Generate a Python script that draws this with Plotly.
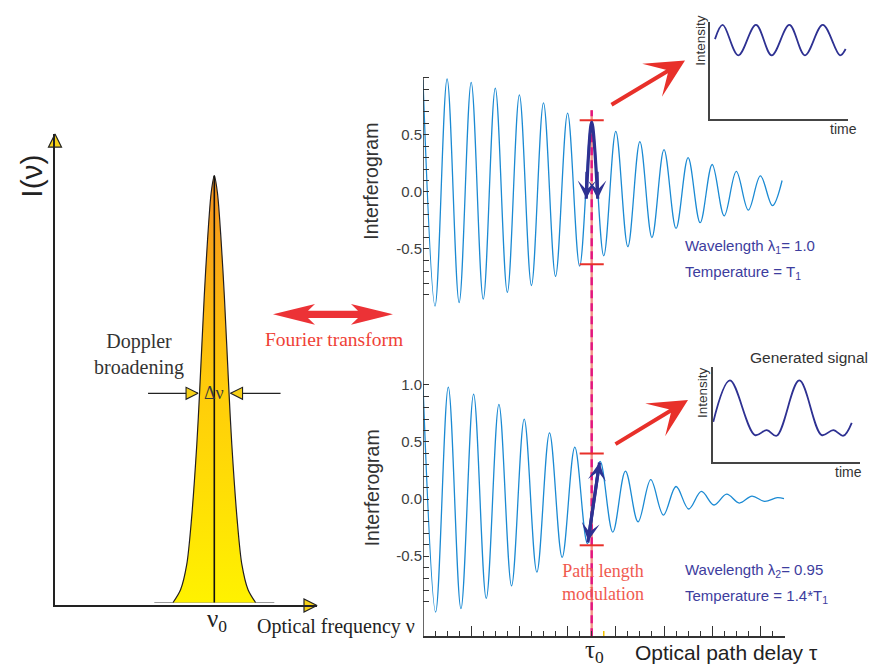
import plotly.graph_objects as go

# ---------------- data ----------------
# Doppler-broadened line: offset from nu0 (in Doppler-width units) and relative intensity
spec_offset = [-3.3, -2.7, -2.2, -1.84, -1.4, -1.18, -0.8, -0.54, -0.25, 0.0,
               0.25, 0.54, 0.8, 1.18, 1.4, 1.84, 2.2, 2.7, 3.3]
spec_intensity = [0.0, 0.03, 0.09, 0.19, 0.37, 0.49, 0.72, 0.85, 0.96, 1.0,
                  0.96, 0.85, 0.72, 0.49, 0.37, 0.19, 0.09, 0.03, 0.0]
spec_tail = [-4.8, 4.8]
delta_nu_level = 0.49
delta_nu_half = 1.3

# Interferogram 1 (lambda1 = 1.0): extrema along the optical path delay
ifg1_delay = [0, 1, 2, 3, 4, 5, 6, 7, 8, 9, 10, 11, 12, 13, 14, 15, 16, 17, 18, 19,
              20, 21, 22, 23, 24, 25, 26, 27, 28, 29, 29.8]
ifg1_value = [0.98, -1.0, 0.99, -0.97, 0.96, -0.94, 0.91, -0.88, 0.85, -0.82,
              0.78, -0.74, 0.69, -0.65, 0.62, -0.56, 0.53, -0.48, 0.44, -0.40,
              0.37, -0.32, 0.30, -0.27, 0.24, -0.21, 0.18, -0.16, 0.14, -0.12, 0.10]

# Interferogram 2 (lambda2 = 0.95)
ifg2_delay = [0, 1.05, 2.1, 3.15, 4.2, 5.25, 6.3, 7.35, 8.4, 9.45, 10.5, 11.55, 12.6,
              13.65, 14.7, 15.75, 16.8, 17.85, 18.9, 19.95, 21.0, 22.05, 23.1, 24.15,
              25.2, 26.25, 27.3, 28.35, 29.4, 29.96]
ifg2_value = [1.0, -0.99, 0.98, -0.96, 0.92, -0.87, 0.83, -0.76, 0.70, -0.64, 0.58,
              -0.51, 0.455, -0.39, 0.33, -0.29, 0.245, -0.20, 0.17, -0.14, 0.11,
              -0.087, 0.067, -0.052, 0.043, -0.035, 0.026, -0.02, 0.012, 0.004]

tau0 = 14.0
mod_halfwidth = 1.0
mod1_limits = [-0.633, 0.627]
mod2_limits = [-0.405, 0.40]
mod1_arrow_x = [13.55, 14.0, 14.5]
mod1_arrow_y = [-0.06, 0.61, -0.06]
mod2_arrow_x = [13.68, 14.65]
mod2_arrow_y = [-0.38, 0.32]

# Inset signals (time, intensity)
sig1_time = [0.36, 0.92, 2.05, 3.33, 4.47, 5.75, 6.88, 8.17, 9.42, 9.83]
sig1_int = [0.849, 1.0, 0.677, 1.0, 0.677, 1.0, 0.677, 1.0, 0.677, 0.744]
sig2_time = [0.04, 1.17, 2.87, 3.67, 4.34, 5.88, 7.40, 8.19, 8.87, 9.44]
sig2_int = [0.425, 0.861, 0.286, 0.339, 0.279, 0.861, 0.286, 0.339, 0.279, 0.415]

ytick_vals = [-0.9, -0.8, -0.7, -0.6, -0.5, -0.4, -0.3, -0.2, -0.1, 0.0,
              0.1, 0.2, 0.3, 0.4, 0.5, 0.6, 0.7, 0.8, 0.9, 1.0]
ylabels_top = {0.5: "0.5", 0.0: "0.0", -0.5: "-0.5"}
ylabels_bottom = {1.0: "1.0", 0.5: "0.5", 0.0: "0.0", -0.5: "-0.5"}

# ---------------- geometry helpers ----------------
W, H = 876, 667


def fx(px):
    return px / W


def fy(py):
    return 1 - py / H


SANS = "Liberation Sans, Arial, Helvetica, sans-serif"
SERIF = "Liberation Serif, Times New Roman, serif"
IFG_BLUE = "#1b8ad3"
NAVY = "#2e3192"
RED = "#e8302a"
TEXTBLUE = "#3d3d9e"

# spectrum panel geometry
X1_L, X1_R, Y1_T, Y1_B = 55, 317, 130, 605
NU0_PX, SIG_PX = 214.3, 12.5
BASE_PX, PEAK_PX = 602, 172
uy1 = BASE_PX - PEAK_PX
xr1 = [(X1_L - NU0_PX) / SIG_PX, (X1_R - NU0_PX) / SIG_PX]
yr1 = [(BASE_PX - Y1_B) / uy1, (BASE_PX - Y1_T) / uy1]

# interferogram geometry
XI_L, XI_R = 423, 784.5
UNIT = 115.0
Y2_ONE = 73.3
Y3_ONE = 382.8
yr2 = [-1.05, 1.03]
yr3 = [-1.2, 1.03]
dom2 = [fy(Y2_ONE + (1 - yr2[0]) * UNIT), fy(Y2_ONE - (yr2[1] - 1) * UNIT)]
dom3 = [fy(Y3_ONE + (1 - yr3[0]) * UNIT), fy(Y3_ONE - (yr3[1] - 1) * UNIT)]

fig = go.Figure()

# ---- spectrum ----
fig.add_trace(go.Scatter(
    x=spec_offset, y=spec_intensity, mode="lines", line=dict(color="#231f20", width=1.2, shape="spline", smoothing=0.8),
    fill="tozeroy",
    fillgradient=dict(type="vertical", colorscale=[[0, "#fff200"], [0.5, "#ffcc0a"], [1, "#f5921e"]]),
    xaxis="x", yaxis="y", hoverinfo="skip"))
fig.add_trace(go.Scatter(
    x=[0, 0], y=[0, max(spec_intensity)], mode="lines", line=dict(color="#111", width=1.6),
    xaxis="x", yaxis="y", hoverinfo="skip"))
# axis arrow heads
fig.add_trace(go.Scatter(
    x=[xr1[0]], y=[yr1[1]], mode="markers", cliponaxis=False,
    marker=dict(symbol="arrow-up", size=13, color="#f7d117", line=dict(color="#222", width=1.2)),
    xaxis="x", yaxis="y", hoverinfo="skip"))
fig.add_trace(go.Scatter(
    x=[xr1[1]], y=[yr1[0]], mode="markers", cliponaxis=False,
    marker=dict(symbol="arrow-right", size=13, color="#f7d117", line=dict(color="#222", width=1.2)),
    xaxis="x", yaxis="y", hoverinfo="skip"))
# delta-nu arrows
fig.add_trace(go.Scatter(
    x=[-delta_nu_half - 4.0, -delta_nu_half, None, delta_nu_half + 4.0, delta_nu_half],
    y=[delta_nu_level] * 2 + [None] + [delta_nu_level] * 2,
    mode="lines", line=dict(color="#222", width=1.3), xaxis="x", yaxis="y", hoverinfo="skip"))
fig.add_trace(go.Scatter(
    x=[-delta_nu_half], y=[delta_nu_level], mode="markers", cliponaxis=False,
    marker=dict(symbol="arrow-right", size=12, color="#f7d117", line=dict(color="#222", width=1.1)),
    xaxis="x", yaxis="y", hoverinfo="skip"))
fig.add_trace(go.Scatter(
    x=[delta_nu_half], y=[delta_nu_level], mode="markers", cliponaxis=False,
    marker=dict(symbol="arrow-left", size=12, color="#f7d117", line=dict(color="#222", width=1.1)),
    xaxis="x", yaxis="y", hoverinfo="skip"))

# ---- interferograms ----
fig.add_trace(go.Scatter(x=ifg1_delay, y=ifg1_value, mode="lines",
                         line=dict(color=IFG_BLUE, width=1.3, shape="spline", smoothing=1.0),
                         xaxis="x2", yaxis="y2", hoverinfo="skip"))
fig.add_trace(go.Scatter(x=ifg2_delay, y=ifg2_value, mode="lines",
                         line=dict(color=IFG_BLUE, width=1.3, shape="spline", smoothing=1.0),
                         xaxis="x3", yaxis="y3", hoverinfo="skip"))

# modulation limits (red bars)
for lim, xa, ya in [(mod1_limits, "x2", "y2"), (mod2_limits, "x3", "y3")]:
    fig.add_trace(go.Scatter(
        x=[tau0 - mod_halfwidth, tau0 + mod_halfwidth, None, tau0 - mod_halfwidth, tau0 + mod_halfwidth],
        y=[lim[1], lim[1], None, lim[0], lim[0]], mode="lines",
        line=dict(color=RED, width=2), xaxis=xa, yaxis=ya, hoverinfo="skip", cliponaxis=False))

# navy modulation strokes
fig.add_trace(go.Scatter(x=mod1_arrow_x, y=mod1_arrow_y, mode="lines",
                         line=dict(color=NAVY, width=3.2, shape="spline"),
                         xaxis="x2", yaxis="y2", hoverinfo="skip"))
fig.add_trace(go.Scatter(x=mod2_arrow_x, y=mod2_arrow_y, mode="lines",
                         line=dict(color=NAVY, width=3.2),
                         xaxis="x3", yaxis="y3", hoverinfo="skip"))

# ---- insets ----
fig.add_trace(go.Scatter(x=sig1_time, y=sig1_int, mode="lines",
                         line=dict(color=NAVY, width=1.8, shape="spline"),
                         xaxis="x4", yaxis="y4", hoverinfo="skip"))
fig.add_trace(go.Scatter(x=sig2_time, y=sig2_int, mode="lines",
                         line=dict(color=NAVY, width=1.8, shape="spline"),
                         xaxis="x5", yaxis="y5", hoverinfo="skip"))


# ---------------- shapes ----------------
def ppath(points):
    return "M " + " L ".join(f"{fx(a):.5f},{fy(b):.5f}" for a, b in points) + " Z"


# Fourier-transform double arrow (decoration)
FA_L, FA_R, FA_Y = 273, 393, 311.7
HL, HH, NOTCH, SH = 42, 10.5, 7, 3.6
fourier_arrow = [
    (FA_L, FA_Y), (FA_L + HL, FA_Y - HH), (FA_L + HL - NOTCH, FA_Y - SH),
    (FA_R - HL + NOTCH, FA_Y - SH), (FA_R - HL, FA_Y - HH), (FA_R, FA_Y),
    (FA_R - HL, FA_Y + HH), (FA_R - HL + NOTCH, FA_Y + SH),
    (FA_L + HL - NOTCH, FA_Y + SH), (FA_L + HL, FA_Y + HH),
]

shapes = [
    # spectrum baseline tails
    dict(type="line", xref="x", yref="y", x0=spec_tail[0], x1=spec_tail[1], y0=0, y1=0,
         line=dict(color="#9a9a9a", width=1.2), layer="below"),
    # long shared y-axis line of the interferograms
    dict(type="line", xref="x2", yref="paper", x0=0, x1=0, y0=fy(636), y1=fy(Y2_ONE),
         line=dict(color="#333", width=1.5)),
    # tau0 line: salmon underlay + magenta dashes
    dict(type="line", xref="x3", yref="paper", x0=tau0, x1=tau0, y0=fy(636), y1=fy(106),
         line=dict(color="#f3968a", width=2.4), layer="below"),
    dict(type="line", xref="x3", yref="paper", x0=tau0, x1=tau0, y0=fy(636), y1=fy(106),
         line=dict(color="#e4157f", width=2.4, dash="8px,5px"), layer="below"),
    # yellow tick next to tau0
    dict(type="line", xref="x3", yref="y3", x0=tau0 + 1, x1=tau0 + 1, y0=yr3[0], y1=yr3[0] + 5 / UNIT,
         line=dict(color="#f2c200", width=1.5)),
    dict(type="path", xref="paper", yref="paper", path=ppath(fourier_arrow),
         fillcolor="#ec3236", line=dict(width=0)),
]

# ---------------- annotations ----------------
ann = []


def text(px, py, s, size, color="#333", family=SANS, xanchor="center", angle=0):
    ann.append(dict(x=fx(px), y=fy(py), xref="paper", yref="paper", text=s, showarrow=False,
                    font=dict(size=size, color=color, family=family), xanchor=xanchor,
                    yanchor="middle", textangle=angle))


text(31.5, 172.5, "I(ν)", 30, "#222", SANS, angle=-90)
text(138.5, 352.5, "Doppler<br>broadening", 20, "#333", SERIF)
text(214.3, 390.5, "Δν", 18, "#3a3a3a", SERIF)
text(216.5, 620, "ν<sub>0</sub>", 25, "#222", SERIF)
text(336, 626, "Optical frequency ν", 20, "#222", SERIF)
text(334, 337, "Fourier transform", 19.5, "#ef4136", SERIF)
text(371.5, 177.5, "Interferogram", 19.5, "#333", SANS, angle=-90)
text(371.5, 486.5, "Interferogram", 19.5, "#333", SANS, angle=-90)
text(682.5, 243, "Wavelength λ<sub>1</sub>= 1.0", 15, TEXTBLUE, SANS, xanchor="left")
text(682.5, 270, "Temperature = T<sub>1</sub>", 15, TEXTBLUE, SANS, xanchor="left")
text(682.5, 570, "Wavelength λ<sub>2</sub>= 0.95", 15, TEXTBLUE, SANS, xanchor="left")
text(682.5, 596, "Temperature = 1.4*T<sub>1</sub>", 15, TEXTBLUE, SANS, xanchor="left")
text(602.5, 581.5, "Path length<br>modulation", 18, "#f05a4f", SERIF)
text(594, 651, "τ<sub>0</sub>", 25, "#222", SERIF)
text(726, 652, "Optical path delay τ", 21, "#222", SANS)
text(701, 36, "Intensity", 13.5, "#333", SANS, angle=-90)
text(843, 125, "time", 14, "#333", SANS)
text(702, 391, "Intensity", 13.5, "#333", SANS, angle=-90)
text(848, 470.5, "time", 14, "#333", SANS)
text(808.5, 355, "Generated signal", 15.5, "#333", SANS)

# red pointer arrows
ann.append(dict(x=fx(685), y=fy(56), xref="paper", yref="paper", ax=-75, ay=45, text="",
                showarrow=True, arrowhead=3, arrowsize=1.6, arrowwidth=4, arrowcolor=RED, standoff=0))
ann.append(dict(x=fx(688), y=fy(398), xref="paper", yref="paper", ax=-74, ay=45, text="",
                showarrow=True, arrowhead=3, arrowsize=1.6, arrowwidth=4, arrowcolor=RED, standoff=0))

# navy arrow heads on the modulation strokes
ann.append(dict(x=mod1_arrow_x[0], y=mod1_arrow_y[0], xref="x2", yref="y2",
                ax=mod1_arrow_x[0] + 0.05, ay=mod1_arrow_y[0] + 0.25, axref="x2", ayref="y2",
                text="", showarrow=True, arrowhead=3, arrowsize=1.0, arrowwidth=3, arrowcolor=NAVY))
ann.append(dict(x=mod1_arrow_x[2], y=mod1_arrow_y[2], xref="x2", yref="y2",
                ax=mod1_arrow_x[2] - 0.05, ay=mod1_arrow_y[2] + 0.25, axref="x2", ayref="y2",
                text="", showarrow=True, arrowhead=3, arrowsize=1.0, arrowwidth=3, arrowcolor=NAVY))
ann.append(dict(x=mod2_arrow_x[1], y=mod2_arrow_y[1], xref="x3", yref="y3",
                ax=mod2_arrow_x[0], ay=mod2_arrow_y[0], axref="x3", ayref="y3",
                text="", showarrow=True, arrowhead=3, startarrowhead=3, arrowside="end+start",
                arrowsize=1.0, startarrowsize=1.0, arrowwidth=3, arrowcolor=NAVY))

# ---------------- layout ----------------
hidden = dict(showgrid=False, zeroline=False, showticklabels=False, ticks="")


def ytick_text(labels):
    return [labels.get(v, "") for v in ytick_vals]


yt_common = dict(showgrid=False, zeroline=False, showline=False, ticks="inside", ticklen=6,
                 tickwidth=1, tickcolor="#333", tickvals=ytick_vals,
                 tickfont=dict(family=SANS, size=15, color="#404040"))

fig.update_layout(
    width=W, height=H, margin=dict(l=0, r=0, t=0, b=0),
    paper_bgcolor="white", plot_bgcolor="rgba(0,0,0,0)", showlegend=False,
    xaxis=dict(domain=[fx(X1_L), fx(X1_R)], range=xr1, anchor="y", showline=True,
               linecolor="#222", linewidth=1.5, **hidden),
    yaxis=dict(domain=[fy(Y1_B), fy(Y1_T)], range=yr1, anchor="x", showline=True,
               linecolor="#222", linewidth=1.5, **hidden),
    xaxis2=dict(domain=[fx(XI_L), fx(XI_R)], range=[0, 30], anchor="y2", visible=False),
    yaxis2=dict(domain=dom2, range=yr2, anchor="x2", ticktext=ytick_text(ylabels_top), **yt_common),
    xaxis3=dict(domain=[fx(XI_L), fx(XI_R)], range=[0, 30], anchor="y3", showline=True,
                linecolor="#333", linewidth=1.5, showgrid=False, zeroline=False,
                showticklabels=False, ticks="inside", tick0=0, dtick=4, ticklen=10,
                tickwidth=1, tickcolor="#333",
                minor=dict(ticks="inside", tick0=0, dtick=1, ticklen=5, tickwidth=1,
                           tickcolor="#333", showgrid=False)),
    yaxis3=dict(domain=dom3, range=yr3, anchor="x3", ticktext=ytick_text(ylabels_bottom), **yt_common),
    xaxis4=dict(domain=[fx(710), fx(848)], range=[0, 10], anchor="y4", showline=True,
                linecolor="#444", linewidth=1.5, **hidden),
    yaxis4=dict(domain=[fy(115), fy(115 - 1.03 * 95)], range=[0, 1.03], anchor="x4", showline=True,
                linecolor="#444", linewidth=1.5, **hidden),
    xaxis5=dict(domain=[fx(712.7), fx(860)], range=[0, 10], anchor="y5", showline=True,
                linecolor="#444", linewidth=1.5, **hidden),
    yaxis5=dict(domain=[fy(460.7), fy(365)], range=[0, 1], anchor="x5", showline=True,
                linecolor="#444", linewidth=1.5, **hidden),
    shapes=shapes, annotations=ann,
)

fig.write_html("out.html", config={"displayModeBar": False},
               post_script="document.body.style.margin='0';document.body.style.overflow='hidden';")
